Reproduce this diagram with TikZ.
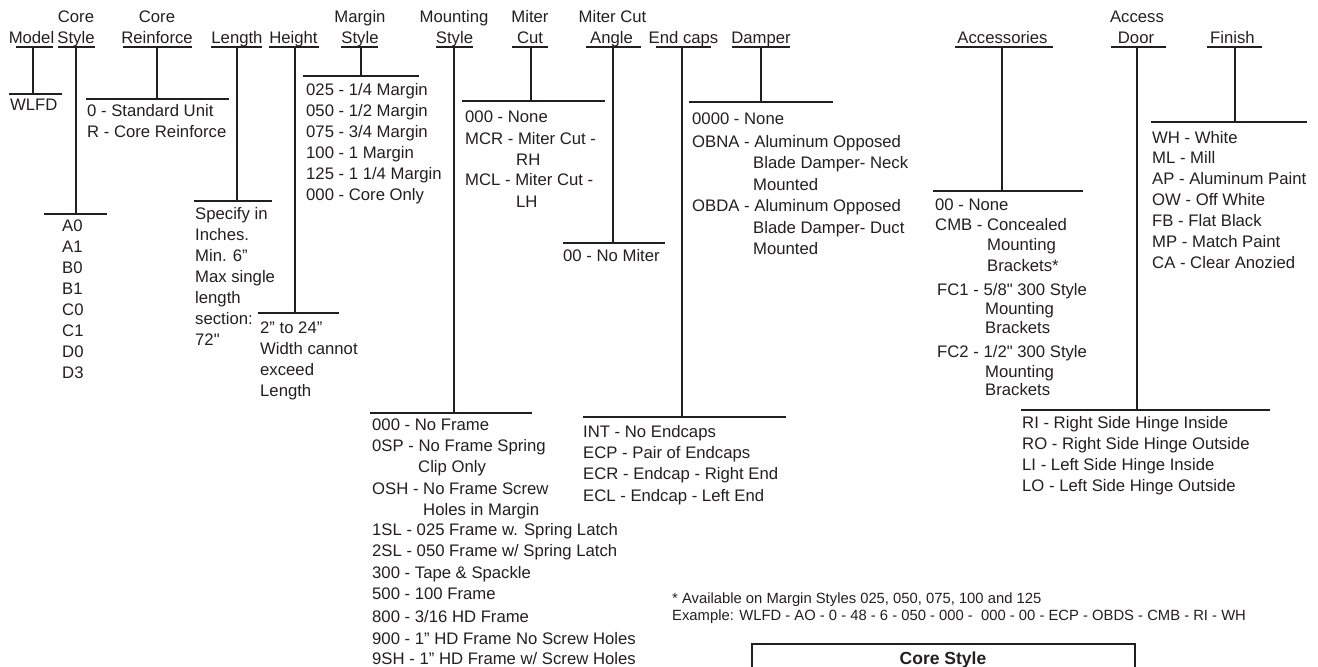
\documentclass[tikz,border=0pt]{standalone}
\usepackage{fontspec}
\setmainfont{Liberation Sans}[Ligatures=TeXOff]
\definecolor{ink}{RGB}{35,31,32}
\tikzset{
  rule/.style={draw=ink,line width=1.8pt},
  hdr/.style={inner sep=0pt,anchor=base,text=ink,font=\fontsize{16.7}{20}\selectfont},
  item/.style={inner sep=0pt,anchor=base west,text=ink,font=\fontsize{16.7}{20}\selectfont},
  note/.style={inner sep=0pt,anchor=base west,text=ink,font=\fontsize{14.8}{17}\selectfont},
  boxtitle/.style={inner sep=0pt,anchor=base,text=ink,font=\fontsize{17.5}{20}\selectfont\bfseries}
}
\newcommand\mybranch[7]{%
  \coordinate (#1-ul) at (#2,47); \coordinate (#1-ur) at (#3,47);
  \coordinate (#1-top) at (#4,47); \coordinate (#1-bot) at (#4,#5);
  \coordinate (#1-bl) at (#6,#5); \coordinate (#1-br) at (#7,#5);
  \draw[rule] (#1-ul) -- (#1-ur);
  \draw[rule] (#1-top) -- (#1-bot);
  \draw[rule] (#1-bl) -- (#1-br);}
\begin{document}
\begin{tikzpicture}[x=1pt,y=-1pt]
\useasboundingbox (0,0) rectangle (1318,667);
% headers
\node[hdr] (hModel) at (31.5,43) {Model};
\node[hdr] (hCS1) at (76,22) {Core};
\node[hdr] (hCS2) at (76,43) {Style};
\node[hdr] (hCR1) at (157,22) {Core};
\node[hdr] (hCR2) at (157,43) {Reinforce};
\node[hdr] (hLen) at (237,43) {Length};
\node[hdr] (hHt) at (293.5,43) {Height};
\node[hdr] (hMS1) at (360,22) {Margin};
\node[hdr] (hMS2) at (360,43) {Style};
\node[hdr] (hMt1) at (454,22) {Mounting};
\node[hdr] (hMt2) at (454.5,43) {Style};
\node[hdr] (hMC1) at (530,22) {Miter};
\node[hdr] (hMC2) at (530,43) {Cut};
\node[hdr] (hMA1) at (612.5,22) {Miter Cut};
\node[hdr] (hMA2) at (611.5,43) {Angle};
\node[hdr] (hEC) at (683.5,43) {End caps};
\node[hdr] (hDm) at (761,43) {Damper};
\node[hdr] (hAcc) at (1002.5,43) {Accessories};
\node[hdr] (hAD1) at (1137,22) {Access};
\node[hdr] (hAD2) at (1136,43) {Door};
\node[hdr] (hFin) at (1232.5,43) {Finish};
% branches
\mybranch{model}{16}{53}{33}{94}{9}{62}
\mybranch{cstyle}{58}{95}{76}{214}{44}{107}
\mybranch{creinf}{123}{192}{157}{99}{86}{229}
\mybranch{length}{211}{262}{237}{201}{194}{272}
\mybranch{height}{269}{319}{295}{313}{258}{339}
\mybranch{margin}{341}{378}{361}{76}{303}{419}
\mybranch{mount}{436}{473}{454}{413}{370}{532}
\mybranch{miter}{512}{548}{531}{101}{462}{605}
\mybranch{angle}{586}{641}{613}{243}{563}{665}
\mybranch{endcap}{656}{711}{682}{417}{583}{786}
\mybranch{damper}{732}{790}{761}{102}{689}{833}
\mybranch{acc}{955}{1053}{1002}{191}{933}{1083}
\mybranch{door}{1111}{1166}{1137}{410}{1021}{1270}
\mybranch{finish}{1207}{1262}{1235}{122}{1151}{1307}
% model
\node[item] (mo0) at (10,110) {WLFD};
% core style
\foreach \t [count=\i from 0] in {A0,A1,B0,B1,C0,C1,D0,D3}
  \node[item] (cs\i) at (62,{231+21*\i}) {\t};
% core reinforce
\node[item] (cr0) at (87,116) {0 - Standard Unit};
\node[item] (cr1) at (87,137) {R - Core Reinforce};
% length
\foreach \t [count=\i from 0] in {Specify in,Inches.,Min. 6”,Max single,length,section:,72"}
  \node[item] (le\i) at (195,{219+21*\i}) {\t};
% height
\foreach \t [count=\i from 0] in {2” to 24”,Width cannot,exceed,Length}
  \node[item] (he\i) at (260,{333+21*\i}) {\t};
% margin
\foreach \t [count=\i from 0] in {025 - 1/4 Margin,050 - 1/2 Margin,075 - 3/4 Margin,100 - 1 Margin,125 - 1 1/4 Margin,000 - Core Only}
  \node[item] (ma\i) at (306,{95+21*\i}) {\t};
% mounting
\node[item] (mt0) at (372,430) {000 - No Frame};
\node[item] (mt1) at (372,451) {0SP - No Frame Spring};
\node[item] (mt2) at (418,472) {Clip Only};
\node[item] (mt3) at (372,494) {OSH - No Frame Screw};
\node[item] (mt4) at (423,515) {Holes in Margin};
\node[item] (mt5) at (372,535) {1SL - 025 Frame w. Spring Latch};
\node[item] (mt6) at (372,556) {2SL - 050 Frame w/ Spring Latch};
\node[item] (mt7) at (372,578) {300 - Tape \& Spackle};
\node[item] (mt8) at (372,599) {500 - 100 Frame};
\node[item] (mt9) at (372,622) {800 - 3/16 HD Frame};
\node[item] (mt10) at (372,644) {900 - 1” HD Frame No Screw Holes};
\node[item] (mt11) at (372,664) {9SH - 1” HD Frame w/ Screw Holes};
% miter cut
\node[item] (mc0) at (465,122) {000 - None};
\node[item] (mc1) at (465,144) {MCR - Miter Cut -};
\node[item] (mc2) at (516,165) {RH};
\node[item] (mc3) at (465,185) {MCL - Miter Cut -};
\node[item] (mc4) at (516,207) {LH};
% angle
\node[item] (an0) at (563,261) {00 - No Miter};
% end caps
\node[item] (ec0) at (583,437) {INT - No Endcaps};
\node[item] (ec1) at (583,458) {ECP - Pair of Endcaps};
\node[item] (ec2) at (583,479) {ECR - Endcap - Right End};
\node[item] (ec3) at (583,501) {ECL - Endcap - Left End};
% damper
\node[item] (dm0) at (692,124) {0000 - None};
\node[item] (dm1) at (692,147) {OBNA - Aluminum Opposed};
\node[item] (dm2) at (753,168) {Blade Damper- Neck};
\node[item] (dm3) at (753,190) {Mounted};
\node[item] (dm4) at (692,211) {OBDA - Aluminum Opposed};
\node[item] (dm5) at (753,233) {Blade Damper- Duct};
\node[item] (dm6) at (753,254) {Mounted};
% accessories
\node[item] (ac0) at (935,210) {00 - None};
\node[item] (ac1) at (935,230) {CMB - Concealed};
\node[item] (ac2) at (987,250) {Mounting};
\node[item] (ac3) at (987,271) {Brackets*};
\node[item] (ac4) at (937,295) {FC1 - 5/8" 300 Style};
\node[item] (ac5) at (985,314) {Mounting};
\node[item] (ac6) at (985,333) {Brackets};
\node[item] (ac7) at (937,357) {FC2 - 1/2" 300 Style};
\node[item] (ac8) at (985,377) {Mounting};
\node[item] (ac9) at (985,395) {Brackets};
% access door
\foreach \t [count=\i from 0] in {RI - Right Side Hinge Inside,RO - Right Side Hinge Outside,LI - Left Side Hinge Inside,LO - Left Side Hinge Outside}
  \node[item] (ad\i) at (1022,{428+21*\i}) {\t};
% finish
\foreach \t [count=\i from 0] in {WH - White,ML - Mill,AP - Aluminum Paint,OW - Off White,FB - Flat Black,MP - Match Paint,CA - Clear Anozied}
  \node[item] (fi\i) at (1152,{143+20.9*\i}) {\t};
% notes
\node[note] (fn1) at (672,603) {* Available on Margin Styles 025, 050, 075, 100 and 125};
\node[note] (fn2) at (672,620) {Example: WLFD - AO - 0 - 48 - 6 - 050 - 000 - \ 000 - 00 - ECP - OBDS - CMB - RI - WH};
% core style table (cut off)
\coordinate (bxLb) at (752,670); \coordinate (bxL) at (752,644);
\coordinate (bxR) at (1135,644); \coordinate (bxRb) at (1135,670);
\draw[rule] (bxLb) -- (bxL) -- (bxR) -- (bxRb);
\node[boxtitle] (cst) at (943,664) {Core Style};
\end{tikzpicture}
\end{document}
